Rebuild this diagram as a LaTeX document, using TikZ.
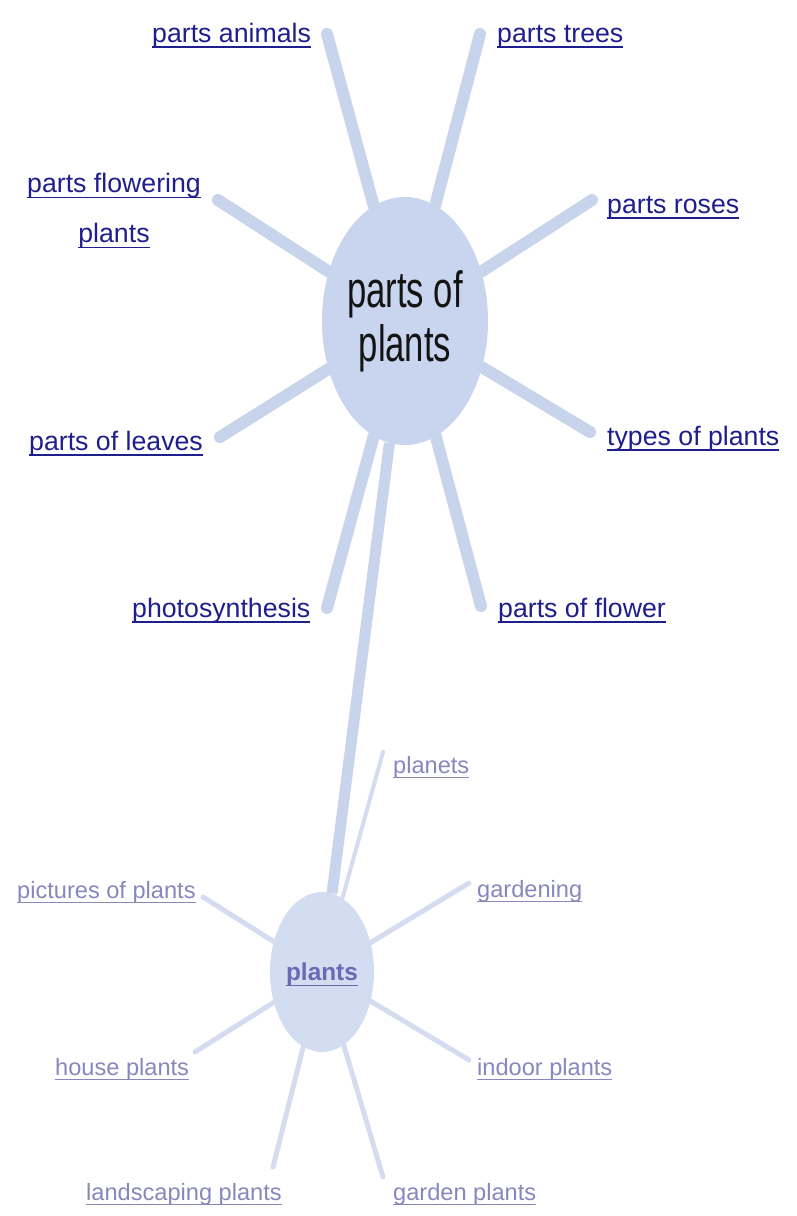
\documentclass[tikz,border=0pt]{standalone}
\usepackage{fontspec}
\setmainfont{Liberation Sans}
\newfontfamily\hubfont[FakeStretch=0.68]{Liberation Sans}
\usetikzlibrary{shapes.geometric}
\definecolor{linkblue}{RGB}{30,30,140}
\definecolor{farlink}{RGB}{135,135,190}
\definecolor{spokeblue}{RGB}{200,212,236}
\definecolor{hubfill}{RGB}{201,213,238}
\definecolor{farspoke}{RGB}{214,220,240}
\definecolor{farhub}{RGB}{210,221,242}
\definecolor{hubtext}{RGB}{20,20,20}
\definecolor{farhubtext}{RGB}{105,105,180}
\newcommand{\lnk}[1]{\setbox0\hbox{#1}\rlap{\raisebox{-0.22em}{\rule{\wd0}{0.07em}}}\box0}

\begin{document}
\begin{tikzpicture}[x=1pt,y=-1pt,
    hub/.style={ellipse,fill=hubfill,inner sep=0pt,minimum width=166pt,minimum height=248pt,
      align=center,text=hubtext,font=\hubfont\fontsize{51}{54}\selectfont},
    farhubnode/.style={ellipse,fill=farhub,inner sep=0pt,minimum width=104pt,minimum height=160pt,
      text depth=0pt,text=farhubtext,font=\bfseries\fontsize{24.4}{28}\selectfont},
    link/.style={anchor=base west,inner sep=0pt,text=linkblue,font=\fontsize{26.7}{50}\selectfont},
    farlinknode/.style={anchor=base west,inner sep=0pt,text=farlink,font=\fontsize{23.6}{28}\selectfont},
    spoke/.style={line width=12pt,spokeblue,line cap=round},
    bridge/.style={line width=11pt,spokeblue},
    farspokeline/.style={line width=5pt,farspoke,line cap=round}]
  \useasboundingbox (0,0) rectangle (797,1216);

  \node[hub] (pop) at (405,321) {parts of\\plants};
  \node[farhubnode] (pl) at (322,972) {\lnk{plants}};

  \coordinate (animals-end) at (327,34);
  \coordinate (trees-end) at (480,34);
  \coordinate (flowering-end) at (218,200);
  \coordinate (roses-end) at (592,200);
  \coordinate (leaves-end) at (220,437);
  \coordinate (types-end) at (590,432);
  \coordinate (photo-end) at (327,608);
  \coordinate (flower-end) at (481,606);
  \foreach \e in {animals,trees,flowering,roses,leaves,types,photo,flower}
    \draw[spoke] (pop) -- (\e-end);
  \draw[bridge] (pop) -- (pl);

  \coordinate (planets-end) at (383,752);
  \coordinate (pictures-end) at (203,897);
  \coordinate (gardening-end) at (469,883);
  \coordinate (house-end) at (195,1052);
  \coordinate (indoor-end) at (469,1060);
  \coordinate (landscaping-end) at (273,1167);
  \coordinate (garden-end) at (383,1177);
  \draw[farspokeline,line width=4pt] (pl) -- (planets-end);
  \foreach \e in {pictures,gardening,house,indoor,landscaping,garden}
    \draw[farspokeline] (pl) -- (\e-end);

  \node[link] (animals) at (152,42) {\lnk{parts animals}};
  \node[link] (trees) at (497,42) {\lnk{parts trees}};
  \node[link,anchor=north,align=center] (flowering) at (114,173) {\lnk{parts flowering}\\\lnk{plants}};
  \node[link] (roses) at (607,213) {\lnk{parts roses}};
  \node[link] (leaves) at (29,450) {\lnk{parts of leaves}};
  \node[link] (types) at (607,445) {\lnk{types of plants}};
  \node[link] (photo) at (132,617) {\lnk{photosynthesis}};
  \node[link] (flower) at (498,617) {\lnk{parts of flower}};

  \node[farlinknode] (planets) at (393,773) {\lnk{planets}};
  \node[farlinknode] (pictures) at (17,898) {\lnk{pictures of plants}};
  \node[farlinknode] (gardening) at (477,897) {\lnk{gardening}};
  \node[farlinknode] (house) at (55,1075) {\lnk{house plants}};
  \node[farlinknode] (indoor) at (477,1075) {\lnk{indoor plants}};
  \node[farlinknode] (landscaping) at (86,1200) {\lnk{landscaping plants}};
  \node[farlinknode] (garden) at (393,1200) {\lnk{garden plants}};
\end{tikzpicture}
\end{document}
